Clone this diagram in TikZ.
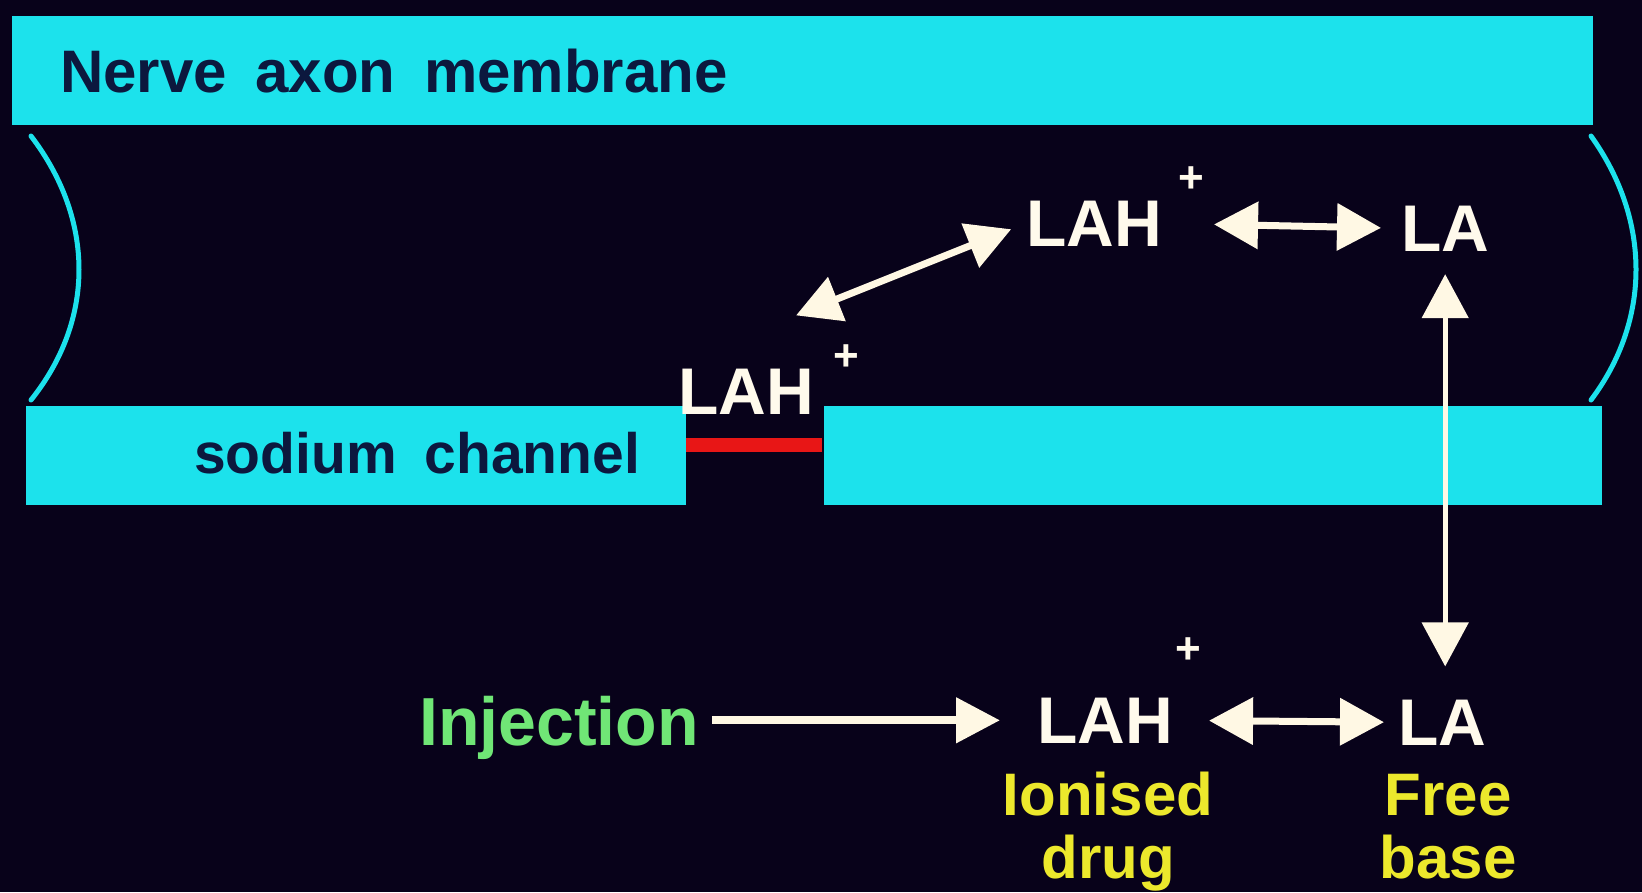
\documentclass[tikz,border=0pt]{standalone}
\usepackage{fontspec}
\setmainfont{Liberation Sans}
\usetikzlibrary{arrows.meta,calc}
\definecolor{bg}{RGB}{8,2,26}
\definecolor{membrane}{RGB}{28,226,236}
\definecolor{navy}{RGB}{12,24,62}
\definecolor{drugwhite}{RGB}{255,250,236}
\definecolor{arrowc}{RGB}{255,248,228}
\definecolor{injgreen}{RGB}{112,230,118}
\definecolor{labyellow}{RGB}{236,232,44}
\definecolor{blocker}{RGB}{232,22,22}
\begin{document}
\begin{tikzpicture}[x=1pt,y=-1pt,
  txt/.style={inner sep=0pt, anchor=base west},
  drug/.style={txt, text=drugwhite, font=\bfseries\fontsize{66}{66}\selectfont},
  charge/.style={inner sep=0pt, text=drugwhite, font=\bfseries\fontsize{44}{44}\selectfont},
  caption/.style={inner sep=0pt, anchor=base, text=labyellow, font=\bfseries\fontsize{60}{60}\selectfont},
  dbl/.style={draw=arrowc, line width=7pt, >={Triangle[length=44pt,width=46pt]}, <->},
  sgl/.style={draw=arrowc, line width=8pt, >={Triangle[length=44pt,width=44pt]}, ->},
  wall/.style={fill=membrane},
  edge/.style={draw=membrane, line width=5pt, line cap=round}]
% background
\fill[bg] (0,0) rectangle (1642,892);
\useasboundingbox (0,0) rectangle (1642,892);

% membranes
\fill[wall] (12,16) rectangle (1593,125);
\fill[wall] (26,406) rectangle (686,505);
\fill[wall] (824,406) rectangle (1602,505);
\fill[blocker] (686,438) rectangle (822,452);

% cut ends of the axon
\draw[edge] (31,136) .. controls (95,220) and (95,320) .. (31,400);
\draw[edge] (1591,136) .. controls (1651,220) and (1651,320) .. (1591,400);

% labels on membranes
\node[txt, text=navy, font=\bfseries\fontsize{60}{60}\selectfont] (axon) at (60,92)
  {Nerve\hspace{12pt} axon\hspace{12pt} membrane};
\node[txt, text=navy, font=\bfseries\fontsize{57}{57}\selectfont] (chan) at (194,473)
  {sodium\hspace{12pt} channel};

% drug species
\node[drug] (lahC) at (678,414) {LAH};
\node[charge] (plusC) at (846,358) {+};
\node[drug] (lahT) at (1026,246) {LAH};
\node[charge] (plusT) at (1191,180) {+};
\node[drug] (laT) at (1401,251) {LA};
\node[drug] (lahB) at (1037,743) {LAH};
\node[charge] (plusB) at (1188,651) {+};
\node[drug] (laB) at (1398,745) {LA};

\node[txt, text=injgreen, font=\bfseries\fontsize{68}{68}\selectfont] (inj) at (419,745) {Injection};

\node[caption] (ion) at (1108,815) {Ionised};
\node[caption] (drg) at (1108,878) {drug};
\node[caption] (free) at (1448,815) {Free};
\node[caption] (base) at (1448,878) {base};

% equilibria and movement
\coordinate (dStart) at ($(lahC.north east)+(-18,-53)$);
\draw[dbl, shorten >=16pt] (dStart) -- (lahT.west);
\draw[dbl, shorten <=52pt, shorten >=20pt] (lahT.east) -- (laT.west);
\draw[dbl, line width=5pt, shorten <=23pt, shorten >=33pt] (laT.south) -- (laT.south |- laB.north);
\draw[dbl, shorten <=36pt, shorten >=14pt] (lahB.east) -- (laB.west);
\draw[sgl, shorten <=13pt, shorten >=37pt] (inj.east |- lahB.west) -- (lahB.west);
\end{tikzpicture}
\end{document}
